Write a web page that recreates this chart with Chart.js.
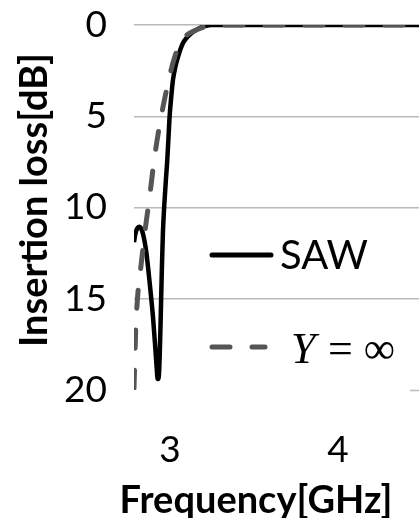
<!DOCTYPE html>
<html>
<head>
<meta charset="utf-8">
<script src="https://cdn.jsdelivr.net/npm/chart.js@4.4.1/dist/chart.umd.min.js"></script>
<style>
  html, body { margin: 0; padding: 0; background: #fff; }
  #wrap { width: 419px; height: 518px; position: relative; }
</style>
</head>
<body>
<div id="wrap"><canvas id="c"></canvas></div>
<script>
// SAW filter response (frequency in GHz, insertion loss in dB)
const freqSaw = [2.786, 2.793, 2.805, 2.820, 2.835, 2.848, 2.860, 2.879, 2.899, 2.912, 2.921, 2.927, 2.931,
  2.936, 2.940, 2.945, 2.952, 2.958, 2.966, 2.975, 2.984, 2.991, 2.998, 3.008, 3.018, 3.032, 3.048, 3.077,
  3.100, 3.127, 3.155, 3.186, 3.215, 3.244, 4.482];
const lossSaw = [11.9, 11.5, 11.15, 11.05, 11.3, 11.8, 12.5, 14.1, 16.0, 17.6, 18.8, 19.4, 19.4,
  18.9, 17.8, 16.0, 13.3, 11.4, 9.9, 8.6, 7.4, 6.2, 5.0, 3.9, 3.0, 2.3, 1.74, 1.0,
  0.7, 0.46, 0.28, 0.13, 0.05, 0.0, 0.0];

// Ideal case, Y = infinity
const freqInf = [2.786, 2.790, 2.795, 2.801, 2.810, 2.820, 2.830, 2.850, 2.879, 2.909, 2.948, 2.998, 3.030,
  3.065, 3.100, 3.149, 3.200, 3.238, 3.300, 4.482];
const lossInf = [19.9, 18.6, 17.0, 15.8, 14.6, 13.8, 13.0, 11.4, 9.4, 7.2, 5.0, 2.8, 1.7,
  0.93, 0.55, 0.3, 0.12, 0.05, 0.0, 0.0];

const xTicks = [3, 4];
const yTicks = [0, 5, 10, 15, 20];
const seriesNames = ['SAW', 'Y', '= \u221E'];
const axisTitles = { x: 'Frequency[GHz]', y: 'Insertion loss[dB]' };

const toPoints = (xs, ys) => xs.map((x, i) => ({ x: x, y: ys[i] }));

const DASH = [18, 22];
const GRID = '#b9b9b9';

// Axis titles and the in-plot legend
const decorations = {
  id: 'decorations',
  afterDatasetsDraw(chart) {
    const ctx = chart.ctx;
    const ys = chart.scales.y;
    ctx.save();
    // short piece of the bottom gridline at the right
    ctx.strokeStyle = GRID;
    ctx.lineWidth = 1.5;
    const y20 = Math.round(ys.getPixelForValue(20)) + 0.5;
    ctx.beginPath(); ctx.moveTo(410, y20); ctx.lineTo(chart.width, y20); ctx.stroke();

    ctx.fillStyle = '#000';
    // y title
    ctx.save();
    ctx.translate(47, 200);
    ctx.rotate(-Math.PI / 2);
    ctx.font = 'bold 38px Lato';
    ctx.textAlign = 'center';
    ctx.textBaseline = 'alphabetic';
    ctx.fillText(axisTitles.y, 0, 0);
    ctx.restore();
    // x title
    ctx.font = 'bold 38px Lato';
    ctx.textAlign = 'center';
    ctx.textBaseline = 'alphabetic';
    ctx.fillText(axisTitles.x, 256, 513);

    // legend: solid line
    ctx.lineCap = 'round';
    ctx.strokeStyle = '#000';
    ctx.lineWidth = 5;
    ctx.beginPath(); ctx.moveTo(212, 255); ctx.lineTo(271, 255); ctx.stroke();
    ctx.font = '40px Lato';
    ctx.textAlign = 'left';
    ctx.fillText(seriesNames[0], 280, 269);
    // legend: dashed line
    ctx.strokeStyle = '#555';
    ctx.setLineDash(DASH);
    ctx.beginPath(); ctx.moveTo(212, 347); ctx.lineTo(265, 347); ctx.stroke();
    ctx.setLineDash([]);
    ctx.font = 'italic 44px "Liberation Serif"';
    ctx.fillText(seriesNames[1], 291, 363);
    ctx.font = '44px "Liberation Serif"';
    ctx.fillText(seriesNames[2], 328, 363);
    ctx.restore();
  }
};

new Chart(document.getElementById('c'), {
  type: 'line',
  data: {
    datasets: [
      {
        label: 'SAW',
        data: toPoints(freqSaw, lossSaw),
        borderColor: '#000',
        borderWidth: 4.5,
        pointRadius: 0,
        cubicInterpolationMode: 'monotone',
        fill: false,
        order: 1
      },
      {
        label: 'Y = \u221E',
        data: toPoints(freqInf, lossInf),
        borderColor: '#555',
        borderWidth: 5,
        borderDash: DASH,
        borderCapStyle: 'round',
        pointRadius: 0,
        cubicInterpolationMode: 'monotone',
        fill: false,
        order: 0
      }
    ]
  },
  options: {
    responsive: true,
    maintainAspectRatio: false,
    animation: false,
    layout: { padding: { top: 25, right: 0, left: 0, bottom: 0 } },
    plugins: { legend: { display: false }, tooltip: { enabled: false } },
    scales: {
      x: {
        type: 'linear',
        min: 2.786,
        max: 4.482,
        afterBuildTicks: s => { s.ticks = xTicks.map(v => ({ value: v })); },
        afterFit: s => { s.height = 128; s.paddingLeft = 0; s.paddingRight = 0; },
        grid: { display: false, drawTicks: false },
        border: { display: false },
        ticks: { color: '#000', font: { family: 'Lato', size: 37 }, padding: 38, maxRotation: 0 }
      },
      y: {
        type: 'linear',
        reverse: true,
        min: 0,
        max: 20,
        afterBuildTicks: s => { s.ticks = yTicks.map(v => ({ value: v })); },
        afterFit: s => { s.width = 134; s.paddingTop = 0; s.paddingBottom = 0; },
        grid: {
          drawTicks: false,
          lineWidth: 1.5,
          color: c => (c.tick && c.tick.value === 20 ? 'rgba(0,0,0,0)' : GRID)
        },
        border: { display: false },
        ticks: { color: '#000', font: { family: 'Lato', size: 37 }, padding: 27 }
      }
    }
  },
  plugins: [decorations]
});
</script>
</body>
</html>
